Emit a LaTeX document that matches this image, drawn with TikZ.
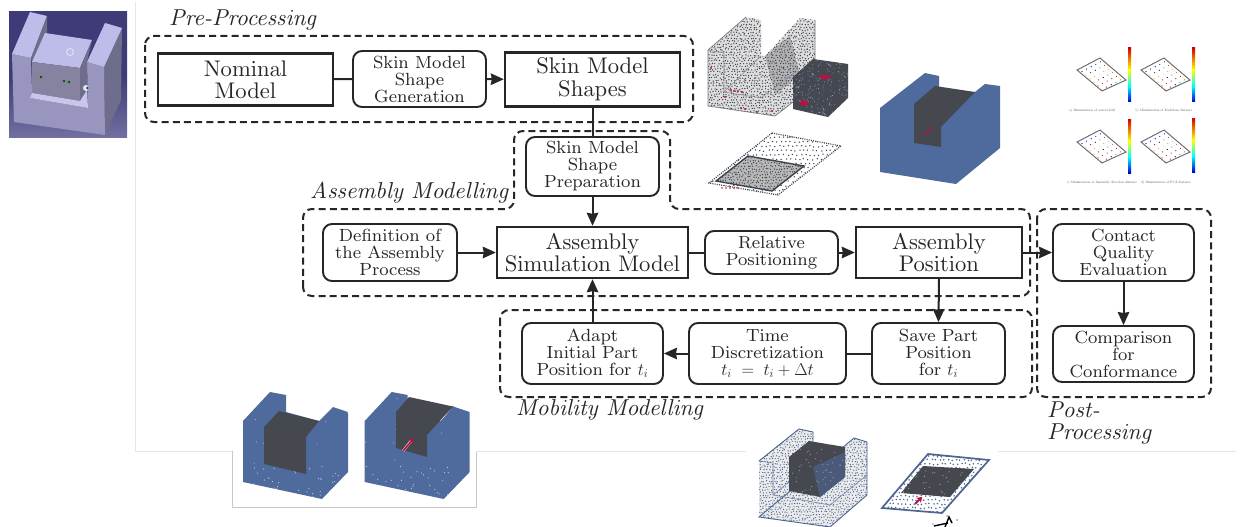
\documentclass[tikz,border=0pt]{standalone}
\usetikzlibrary{arrows.meta}
\font\fsm=cmr8 at 17.6pt
\font\fbg=cmr10 at 22.6pt
\font\fit=cmti10 at 23pt
\font\ftiny=cmr10 at 3.4pt
\definecolor{ink}{HTML}{262626}
\definecolor{bluem}{HTML}{4F6A9C}
\definecolor{darkm}{HTML}{46484F}
\definecolor{redm}{HTML}{B5123F}
\definecolor{wire}{HTML}{3E4350}
\definecolor{wireb}{HTML}{4E6491}
\definecolor{edgeg}{HTML}{E6E6E6}
\definecolor{cadtop}{HTML}{3E3B78}
\definecolor{cadbot}{HTML}{716EA0}
\definecolor{cadlt}{HTML}{BEBCE9}
\definecolor{cadfr}{HTML}{9896BE}
\definecolor{cadsd}{HTML}{6F6D8C}
\definecolor{cadin}{HTML}{85839F}
\tikzset{
  rbox/.style={draw=ink,line width=1.9pt,rounded corners=9pt,align=center,inner sep=0pt,text=ink,font=\fontsize{17.6}{17}\selectfont\fsm},
  sbox/.style={draw=ink,line width=2.4pt,align=center,inner sep=0pt,text=ink,font=\fontsize{22.6}{22.5}\selectfont\fbg},
  region/.style={draw=ink,line width=2pt,dash pattern=on 7pt off 4.2pt,rounded corners=9pt},
  conn/.style={draw=ink,line width=2pt},
  arr/.style={conn,-{Stealth[length=13pt,width=11.5pt,inset=1pt]}},
  lab/.style={font=\fontsize{23}{22}\selectfont\fit,text=ink,align=left,inner sep=0pt},
  tiny/.style={font=\ftiny,text=black!70,inner sep=0pt},
}
\newcommand{\griddots}[7]{% x y nx ny step r colour
  \foreach \ii in {0,...,#3}{\foreach \jj in {0,...,#4}{
    \pgfmathsetmacro\pxx{#1+\ii*#5+0.8*rand+0.4*mod(\jj,2)*#5}
    \pgfmathsetmacro\pyy{#2+\jj*#5+0.8*rand}
    \fill[#7] (\pxx,\pyy) circle (#6pt);
  }}}
\newcommand{\specks}[6]{% x y w h n style
  \foreach \kk in {1,...,#5}{
    \pgfmathsetmacro\pxx{#1+(#3)*(rnd)}
    \pgfmathsetmacro\pyy{#2+(#4)*(rnd)}
    \fill[#6] (\pxx,\pyy) circle (0.6pt);
  }}
\newcommand{\blueblock}[1]{%
  \begin{scope}[xshift=#1pt]
    \fill[bluem] (243,421)--(270,392)--(286,395)--(286,412)--(319,421)--(333,407)--(348,412)--(348,472)--(322,499)--(243,482)--cycle;
    \begin{scope}
      \clip (243,421)--(270,392)--(286,395)--(286,412)--(319,421)--(333,407)--(348,412)--(348,472)--(322,499)--(243,482)--cycle;
      \specks{243}{465}{105}{35}{45}{white!65!bluem}
      \specks{243}{392}{105}{75}{14}{white!50!bluem}
    \end{scope}
  \end{scope}}
\newcommand{\plotq}[4]{% x y barx bary
  \fill[white] (#1,#2)--++(23,-12)--++(26,22)--++(-24,11)--cycle;
  \foreach \ii/\cc in {0/blue,1/cyan,2/yellow,3/orange,4/red,5/cyan}{
    \foreach \jj/\dd in {0/yellow,1/red,2/black,3/cyan,4/orange}{
      \pgfmathsetmacro\pxx{#1+5+4*\ii+4.6*\jj}
      \pgfmathsetmacro\pyy{#2+1.5+3.6*\ii-2.4*\jj}
      \fill[\ifodd\ii \dd\else\cc\fi!75!black] (\pxx,\pyy) circle (0.6pt);
    }}
  \draw[black!60,line width=.9pt] (#1,#2)--++(23,-12)--++(26,22)--++(-24,11)--cycle;
  \shade[top color=red!85!black,bottom color=yellow] (#3,#4) rectangle (#3+3,#4+22);
  \shade[top color=yellow,bottom color=cyan] (#3,#4+22) rectangle (#3+3,#4+38);
  \shade[top color=cyan,bottom color=blue!85!black] (#3,#4+38) rectangle (#3+3,#4+54);
}
\begin{document}
\begin{tikzpicture}[x=1pt,y=-1pt]
\useasboundingbox (0,0) rectangle (1243,527);
\fill[white] (0,0) rectangle (1243,527);
% page edges
\draw[edgeg,line width=.8pt] (135.5,2)--(135.5,451)--(232,451);
\draw[black!22,line width=.8pt] (232,451)--(232,507)--(476,507)--(476,451);
\draw[edgeg,line width=.8pt] (476,451)--(746,451) (998,451)--(1236,451);
% CAD picture
\shade[top color=cadtop,bottom color=cadbot,middle color=cadtop] (9,12) rectangle (127,137);
\fill[cadsd] (122,28)--(121,100)--(105,135)--(104,67)--cycle;
\fill[cadfr] (12,54)--(31,58)--(32,93)--(30,98)--(88,108)--(87,62)--(104,67)--(105,135)--(14,122)--cycle;
\fill[cadlt] (30,12)--(47,16)--(31,58)--(12,54)--cycle;
\fill[cadsd] (47,16)--(47,33)--(32,62)--(31,58)--cycle;
\fill[cadlt] (105,23)--(122,28)--(104,67)--(87,62)--cycle;
\fill[cadlt] (45,33)--(92,40)--(80,68)--(32,62)--cycle;
\fill[cadin] (32,62)--(80,68)--(80,101)--(32,93)--cycle;
\fill[cadsd] (80,68)--(92,40)--(87,62)--(87,90)--(80,101)--cycle;
\fill[white!15!cadlt] (32,93)--(80,101)--(87,90)--(88,108)--(30,98)--cycle;
\draw[white!60!cadlt,line width=.8pt] (70,52) circle (3.5pt);
\fill[white!60!cadlt] (86,88) circle (3pt);
\foreach \cx/\cy in {41/77,64/81,69/82,87.5/88}{\fill[green!35!black] (\cx,\cy) circle (1.3pt);}
% top wire block
\begin{scope}
  \clip (708,50)--(746,17)--(761,20)--(761,56)--(765,56)--(800,18)--(815,20)--(815,85)--(775,116)--(708,106)--cycle;
  \fill[black!13] (700,10) rectangle (820,120);
  \fill[black!30] (765,56)--(790,36)--(800,75)--(775,95)--cycle;
  \griddots{706}{16}{40}{37}{2.8}{0.72}{wire}
  \specks{706}{16}{110}{100}{50}{bluem}
\end{scope}
\draw[wire!70,line width=.7pt] (708,50)--(746,17) (708,50)--(708,106)--(775,116)--(815,85)--(815,20);
\draw[wire!60,line width=.6pt] (708,50)--(724,53)--(724,92)--(761,98) (724,92)--(761,56) (761,98)--(795,72);
\foreach \cx/\cy in {731/90,734/91,738/91,742/92,711/68,741/108,745/109,757/112,772/111,725/97}{\fill[redm] (\cx,\cy) circle (1.1pt);}
% top cube
\fill[darkm] (793,77)--(813,59)--(848,64)--(848,98)--(828,117)--(793,109)--cycle;
\begin{scope}
  \clip (793,77)--(813,59)--(848,64)--(848,98)--(828,117)--(793,109)--cycle;
  \specks{793}{59}{55}{58}{170}{bluem!85!white}
  \specks{793}{59}{55}{58}{50}{white!50!darkm}
\end{scope}
\fill[redm] (825,77) ellipse (6pt and 2pt);
\fill[redm] (804,103) ellipse (4pt and 3pt);
% top plate
\begin{scope}
  \clip (772,133)--(841,146)--(778,195)--(709,183)--cycle;
  \griddots{707}{133}{30}{16}{4.4}{0.75}{wire}
\end{scope}
\draw[wire,line width=1.2pt,dash pattern=on 1pt off 1.2pt] (772,133)--(841,146)--(778,195)--(709,183)--cycle;
\fill[black!28] (748,156)--(804,166)--(772,191)--(716,181)--cycle;
\begin{scope}
  \clip (748,156)--(804,166)--(772,191)--(716,181)--cycle;
  \griddots{714}{155}{32}{13}{2.8}{0.7}{wire}
\end{scope}
\draw[wire,line width=1.4pt] (748,156)--(804,166)--(772,191)--(716,181)--cycle;
\foreach \cx in {722,726,730,734,738}{\fill[redm] (\cx,188) circle (.9pt);}
\fill[redm] (790,137) circle (.9pt) (790,167) circle (.9pt);
% blue block top
\fill[bluem] (880,108)--(925,73)--(939,76)--(939,95)--(975,92)--(985,84)--(1000,86)--(1000,148)--(956,184)--(880,172)--cycle;
\fill[darkm] (914,104)--(935,86)--(975,92)--(941,127)--(941,147)--(914,143)--cycle;
\draw[redm,line width=.9pt,-{Stealth[length=3pt,width=3pt]}] (923,135)--(933,127);
% bottom blue blocks
\blueblock{0}
\fill[darkm] (264,427)--(279,411)--(319,421)--(306,437)--(306,474)--(264,464)--cycle;
\blueblock{121.7}
\fill[bluem] (427,440)--(453,406)--(456,408)--(441,425)--cycle;
\fill[darkm] (396,412)--(409,397)--(453,406.5)--(427,435)--(427,457)--(396,448)--cycle;
\draw[white!70!redm,line width=2.6pt] (403,451)--(411,441);
\draw[redm,line width=1.5pt,-{Stealth[length=5pt,width=6pt]}] (403,451)--(414,438);
% bottom wire block
\begin{scope}
  \clip (759,461)--(799,429)--(813,432)--(813,446)--(845,447)--(854,438)--(867,442)--(867,495)--(830,527)--(759,517)--cycle;
  \fill[black!8] (750,425) rectangle (870,527);
  \griddots{757}{428}{41}{36}{2.8}{0.68}{wireb}
\end{scope}
\draw[wireb,line width=.9pt] (759,461)--(799,429)--(813,432)--(813,446) (854,438)--(867,442)--(867,495)--(830,527)--(759,517)--cycle;
\draw[wireb!80,line width=.6pt] (759,461)--(773,463)--(773,495)--(830,505)--(867,475) (773,495)--(789,482);
\fill[darkm] (789,457)--(809,441)--(845,447)--(845,477)--(820,497)--(789,491)--cycle;
\fill[wireb!65!darkm] (813,467)--(845,452)--(845,477)--(820,497)--cycle;
\begin{scope}
  \clip (789,457)--(809,441)--(845,447)--(845,477)--(820,497)--(789,491)--cycle;
  \specks{789}{441}{56}{56}{60}{white!45!darkm}
\end{scope}
% bottom plate
\begin{scope}
  \clip (928,454)--(989,460)--(942,513)--(882,508)--cycle;
  \griddots{880}{452}{27}{15}{4}{0.85}{wireb}
\end{scope}
\draw[wireb,line width=1.7pt] (928,454)--(989,460)--(942,513)--(882,508)--cycle;
\fill[darkm] (923,466)--(974,469)--(950,497)--(901,493)--cycle;
\begin{scope}
  \clip (923,466)--(974,469)--(950,497)--(901,493)--cycle;
  \specks{901}{466}{73}{31}{40}{white!50!darkm}
\end{scope}
\draw[redm,line width=1.8pt,-{Stealth[length=5pt,width=7pt]}] (915,504)--(922,497);
\draw[black,line width=1.4pt] (934,526)--(948,523) (945,527)--(949,517)--(952,523);
\fill[black!40] (947,516) circle (1pt) (957,520) circle (1pt) (933,524) circle (.8pt);
% small result plots
\plotq{1077}{70}{1128}{48}
\plotq{1141}{70}{1192}{48}
\plotq{1077}{142}{1128}{119}
\plotq{1141}{142}{1192}{118}
\node[tiny] (capa) at (1092,111) {a) Minimization of convex hull};
\node[tiny] (capb) at (1164,111) {b) Minimization of Euclidean distance};
\node[tiny] (capc) at (1102,183) {c) Minimization of Assembly direction distance};
\node[tiny] (capd) at (1166,183) {d) Minimization of PCA distance};
% flowchart regions
\draw[region] (145,36) rectangle (693,122);
\draw[region] (303,296) -- (303,209) -- (514,209) -- (514,131) -- (670,131) -- (670,209) -- (1030,209) -- (1030,296) -- cycle;
\draw[region] (500,310) rectangle (1032,397);
\draw[region] (1037,209) rectangle (1211,397);
% nodes
\node[sbox,minimum width=175pt,minimum height=52pt] (nominal) at (245.5,79.5) {Nominal\\Model};
\node[rbox,minimum width=133pt,minimum height=56pt] (gen) at (419.5,79) {Skin Model\\Shape\\Generation};
\node[sbox,minimum width=175pt,minimum height=54pt] (shapes) at (592.5,79.5) {Skin Model\\Shapes};
\node[rbox,minimum width=133pt,minimum height=59pt] (prep) at (592.5,166.5) {Skin Model\\Shape\\Preparation};
\node[rbox,minimum width=134pt,minimum height=57pt] (def) at (390,252.5) {Definition of\\the Assembly\\Process};
\node[sbox,minimum width=191pt,minimum height=51pt] (sim) at (592.5,252.5) {Assembly\\Simulation Model};
\node[rbox,minimum width=133pt,minimum height=43pt] (rel) at (771.5,252.5) {Relative\\Positioning};
\node[sbox,minimum width=166pt,minimum height=51pt] (pos) at (939,252.5) {Assembly\\Position};
\node[rbox,minimum width=141pt,minimum height=57pt] (contact) at (1123.5,252.5) {Contact\\Quality\\Evaluation};
\node[rbox,minimum width=141pt,minimum height=56pt] (comp) at (1123.5,354) {Comparison\\for\\Conformance};
\node[rbox,minimum width=133pt,minimum height=61pt] (save) at (938.5,353.5) {Save Part\\Position\\for \(t_i\)};
\node[rbox,minimum width=157pt,minimum height=61pt] (time) at (767.5,353.5) {Time\\Discretization\\\(t_i\;=\;t_i+\Delta t\)};
\node[rbox,minimum width=141pt,minimum height=61pt] (adapt) at (592.5,353.5) {Adapt\\Initial Part\\Position for \(t_i\)};
% labels
\node[lab,anchor=west] (lpre) at (169,20) {Pre-Processing};
\node[lab,anchor=west] (lasm) at (310,193) {Assembly Modelling};
\node[lab,anchor=west] (lmob) at (516,410) {Mobility Modelling};
\node[lab,anchor=north west] (lpost) at (1047,402) {Post-\\Processing};
% connectors
\draw[conn] (nominal) -- (gen);
\draw[arr] (gen) -- (shapes);
\draw[conn] (shapes) -- (prep);
\draw[arr] (prep) -- (sim);
\draw[arr] (def) -- (sim);
\draw[conn] (sim) -- (rel);
\draw[arr] (rel) -- (pos);
\draw[arr] (pos) -- (contact);
\draw[arr] (contact) -- (comp);
\draw[arr] (pos.south) -- (save.north);
\draw[conn] (save) -- (time);
\draw[arr] (time) -- (adapt);
\draw[arr] (adapt) -- (sim);
\end{tikzpicture}
\end{document}
